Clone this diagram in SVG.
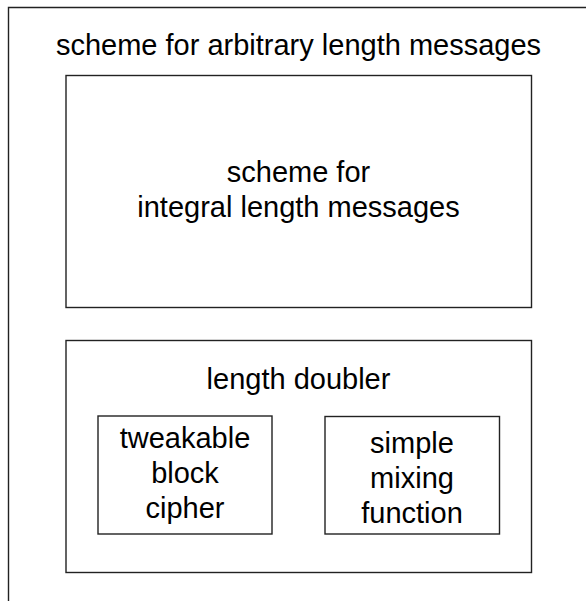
<svg xmlns="http://www.w3.org/2000/svg" width="586" height="601" viewBox="0 0 586 601">
  <style>
    .box { fill: none; stroke: #222; stroke-width: 1.4; }
    .lbl { font-family: "Liberation Sans", Arial, Helvetica, sans-serif; font-size: 29px; fill: #000; text-anchor: middle; }
  </style>
  <rect width="586" height="601" fill="#fff"/>

  <!-- outer scheme, open to the right and bottom -->
  <g id="arbitrary">
    <path class="box" d="M8.5,601 V7.5 H586"/>
    <text class="lbl" x="298.5" y="55">scheme for arbitrary length messages</text>
  </g>

  <g id="integral">
    <rect class="box" x="66" y="75.5" width="465.5" height="232"/>
    <text class="lbl" x="298.5" y="182">scheme for</text>
    <text class="lbl" x="298.5" y="217">integral length messages</text>
  </g>

  <g id="doubler">
    <rect class="box" x="66" y="340.5" width="465.5" height="232"/>
    <text class="lbl" x="298.5" y="389">length doubler</text>
  </g>

  <g id="tbc">
    <rect class="box" x="98" y="416" width="174" height="118"/>
    <text class="lbl" x="185" y="448">tweakable</text>
    <text class="lbl" x="185" y="483">block</text>
    <text class="lbl" x="185" y="518">cipher</text>
  </g>

  <g id="mixing">
    <rect class="box" x="325" y="416.5" width="174.5" height="117.5"/>
    <text class="lbl" x="412" y="453">simple</text>
    <text class="lbl" x="412" y="488">mixing</text>
    <text class="lbl" x="412" y="523">function</text>
  </g>

  <g id="connectors"></g>
</svg>
